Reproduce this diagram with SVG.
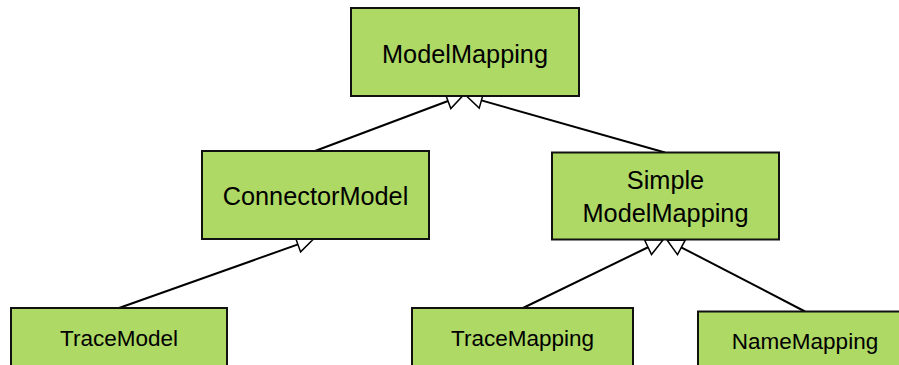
<svg xmlns="http://www.w3.org/2000/svg" width="899" height="365" viewBox="0 0 899 365">
  <style>
    .box { fill: #aed964; stroke: #111; stroke-width: 2; }
    .lbl { font-family: "Liberation Sans", Arial, sans-serif; fill: #000; text-anchor: middle; }
    .big { font-size: 25.3px; }
    .small { font-size: 22.5px; }
    .edge { stroke: #000; stroke-width: 2; fill: none; }
    .head { fill: #fff; stroke: #000; stroke-width: 1.5; stroke-linejoin: miter; }
  </style>
  <rect width="899" height="365" fill="#fff"/>

  <g id="connectors">
    <!-- ConnectorModel -> ModelMapping -->
    <line class="edge" x1="315" y1="151" x2="448" y2="101"/>
    <polygon class="head" points="463,95.5 445.2,93.5 450.8,108.5"/>
    <!-- SimpleModelMapping -> ModelMapping -->
    <line class="edge" x1="665" y1="152.5" x2="481.4" y2="100.4"/>
    <polygon class="head" points="466,95.5 483.6,92.7 479.2,108.1"/>
    <!-- TraceModel -> ConnectorModel -->
    <line class="edge" x1="119" y1="308" x2="298" y2="244.4"/>
    <polygon class="head" points="313,239.5 295.2,236.9 300.6,251.9"/>
    <!-- TraceMapping -> SimpleModelMapping -->
    <line class="edge" x1="523" y1="308" x2="648.6" y2="247"/>
    <polygon class="head" points="663,240 644.5,239.8 651.5,254.5"/>
    <!-- NameMapping -> SimpleModelMapping -->
    <line class="edge" x1="805" y1="311.5" x2="681.2" y2="247.3"/>
    <polygon class="head" points="667,240 685.2,240.2 677.5,254.6"/>
  </g>

  <g id="ModelMapping">
    <rect class="box" x="351" y="8" width="228" height="88"/>
    <text class="lbl big" x="465" y="63">ModelMapping</text>
  </g>

  <g id="ConnectorModel">
    <rect class="box" x="202" y="151" width="227" height="88"/>
    <text class="lbl big" x="315.5" y="205">ConnectorModel</text>
  </g>

  <g id="SimpleModelMapping">
    <rect class="box" x="552" y="152.5" width="227" height="87"/>
    <text class="lbl big" x="665.5" y="189">Simple</text>
    <text class="lbl big" x="665.5" y="222">ModelMapping</text>
  </g>

  <g id="TraceModel">
    <rect class="box" x="11" y="308" width="216" height="70"/>
    <text class="lbl small" x="119" y="346">TraceModel</text>
  </g>

  <g id="TraceMapping">
    <rect class="box" x="412" y="308" width="221" height="70"/>
    <text class="lbl small" x="522.5" y="346">TraceMapping</text>
  </g>

  <g id="NameMapping">
    <rect class="box" x="698" y="311.5" width="214" height="70"/>
    <text class="lbl small" x="805" y="349">NameMapping</text>
  </g>
</svg>
